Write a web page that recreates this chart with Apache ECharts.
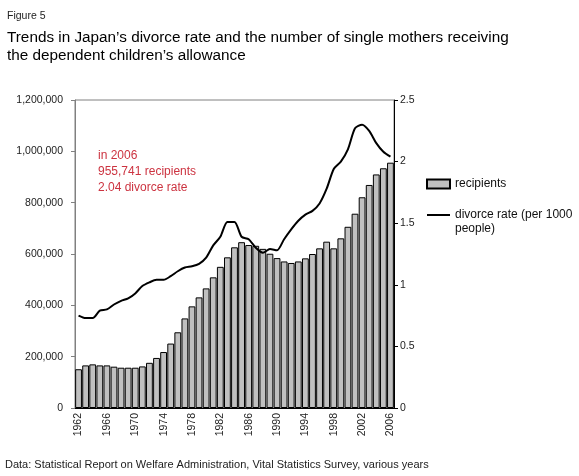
<!DOCTYPE html>
<html>
<head>
<meta charset="utf-8">
<script src="https://cdn.jsdelivr.net/npm/echarts@6/dist/echarts.min.js"></script>
<style>
html,body{margin:0;padding:0;background:#fff;}
#chart{width:579px;height:476px;}
</style>
</head>
<body>
<div id="chart"></div>
<script>
var years = [];
for (var y = 1962; y <= 2006; y++) years.push(String(y));

var recipients = [151000,166000,170000,166000,166000,161000,157000,157000,157000,162000,
  176000,195000,218000,251000,295000,349000,396000,431000,466000,509000,
  550000,587000,626000,646000,635000,632000,620000,601000,584000,571000,
  565000,571000,583000,600000,622000,648000,622000,661000,706000,757000,
  821000,869000,910000,934000,955741];

var divorceRate = [0.75,0.73,0.73,0.79,0.80,0.84,0.87,0.89,0.93,0.99,
  1.02,1.04,1.04,1.07,1.11,1.14,1.15,1.17,1.22,1.32,
  1.39,1.51,1.51,1.39,1.37,1.30,1.26,1.29,1.28,1.37,
  1.45,1.52,1.57,1.60,1.66,1.78,1.94,2.00,2.10,2.27,
  2.30,2.25,2.15,2.08,2.04];

var leftTicks = {min: 0, max: 1200000, interval: 200000};
var rightTicks = {min: 0, max: 2.5, interval: 0.5};

var FONT = 'Arial, "Liberation Sans", sans-serif';
var chart = echarts.init(document.getElementById('chart'), null, {renderer: 'canvas'});
chart.setOption({
  animation: false,
  backgroundColor: '#fff',
  textStyle: {fontFamily: FONT},
  grid: {left: 75, right: 185, top: 100, bottom: 68, show: true, borderColor: '#808080', borderWidth: 1, containLabel: false},
  title: [
    {text: 'Figure 5', left: 7, top: 11, padding: 0, textStyle: {fontSize: 10.5, fontWeight: 'normal', color: '#222', fontFamily: FONT}},
    {text: 'Trends in Japan\u2019s divorce rate and the number of single mothers receiving\nthe dependent children\u2019s allowance', left: 7, top: 29, padding: 0,
      textStyle: {fontSize: 15.3, fontWeight: 'normal', color: '#000', lineHeight: 18, fontFamily: FONT}}
  ],
  legend: {
    orient: 'vertical', left: 426, top: 177, padding: 0, itemWidth: 23, itemHeight: 9, itemGap: 3,
    textStyle: {fontSize: 12, color: '#111', fontFamily: FONT, lineHeight: 14},
    formatter: function (name) { return name === 'recipients' ? name : ' \ndivorce rate (per 1000\npeople)'; },
    data: [
      {name: 'recipients', icon: 'rect'},
      {name: 'divorce rate (per 1000 people)', itemStyle: {opacity: 0}}
    ]
  },
  graphic: [
    {type: 'text', left: 98, top: 148, style: {text: 'in 2006\n955,741 recipients\n2.04 divorce rate', fill: '#cc3340', font: '12px ' + FONT, lineHeight: 16}},
    {type: 'text', left: 5, top: 459, style: {text: 'Data: Statistical Report on Welfare Administration, Vital Statistics Survey, various years', fill: '#222', font: '11px ' + FONT}}
  ],
  xAxis: {
    type: 'category', data: years,
    axisLine: {lineStyle: {color: '#000', width: 1}},
    axisTick: {show: false},
    axisLabel: {interval: 3, rotate: 90, fontSize: 10.5, color: '#222', margin: 5, fontFamily: FONT}
  },
  yAxis: [
    {type: 'value', min: leftTicks.min, max: leftTicks.max, interval: leftTicks.interval, position: 'left',
      axisLine: {show: true, lineStyle: {color: '#808080'}},
      axisTick: {show: true, length: 4, lineStyle: {color: '#808080'}},
      splitLine: {show: false},
      axisLabel: {fontSize: 10.5, color: '#222', margin: 12, fontFamily: FONT,
        formatter: function (v) { return v.toLocaleString('en-US'); }}},
    {type: 'value', min: rightTicks.min, max: rightTicks.max, interval: rightTicks.interval, position: 'right',
      axisLine: {show: true, lineStyle: {color: '#000'}},
      axisTick: {show: true, length: 4, lineStyle: {color: '#000'}},
      splitLine: {show: false},
      axisLabel: {fontSize: 10.5, color: '#222', margin: 6, fontFamily: FONT}}
  ],
  series: [
    {name: 'recipients', type: 'bar', yAxisIndex: 0, data: recipients, barCategoryGap: '4%',
      itemStyle: {color: '#c0c0c0', borderColor: '#000', borderWidth: 1}},
    {name: 'divorce rate (per 1000 people)', type: 'line', yAxisIndex: 1, data: divorceRate, symbol: 'none', smooth: 0.25,
      lineStyle: {color: '#000', width: 2}, itemStyle: {color: '#000'}}
  ]
});
</script>
</body>
</html>
